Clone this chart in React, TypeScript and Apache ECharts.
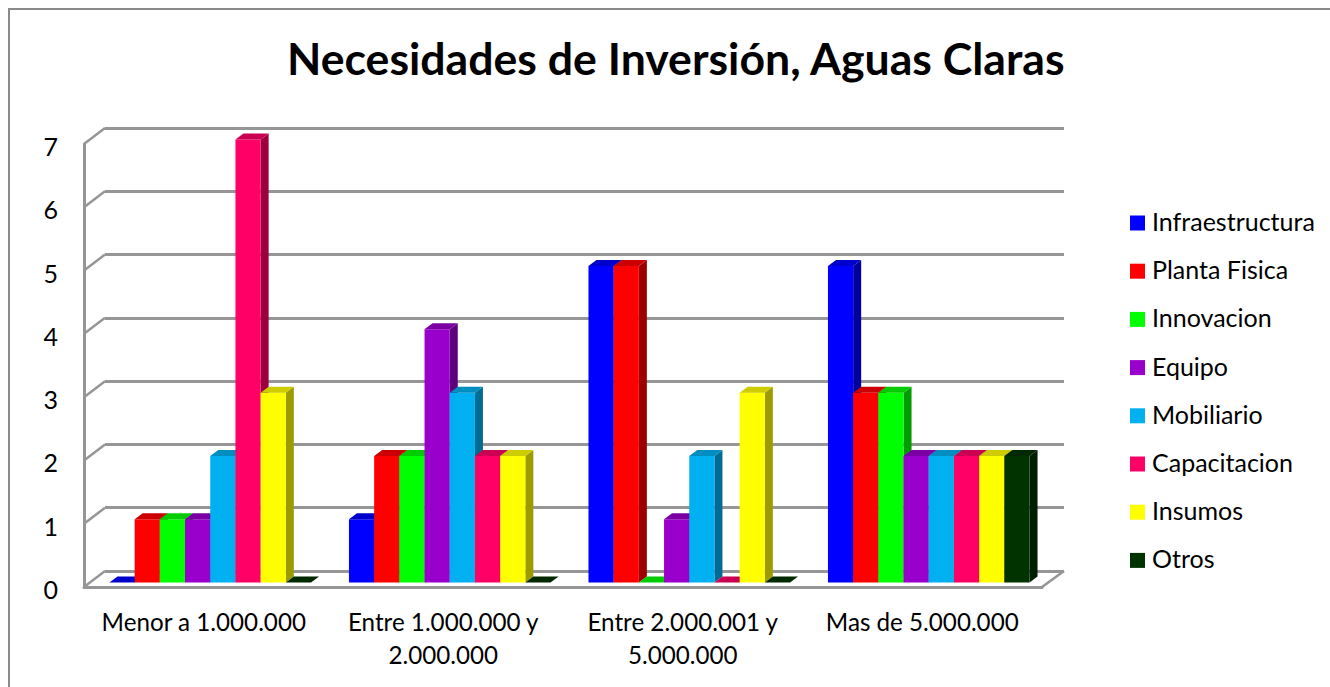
import React, { useEffect, useRef } from "react";
import * as echarts from "echarts";

const titleText = "Necesidades de Inversión, Aguas Claras";
const categories = ["Menor a 1.000.000", "Entre 1.000.000 y\n2.000.000", "Entre 2.000.001 y\n5.000.000", "Mas de 5.000.000"];
const yTicks = [0, 1, 2, 3, 4, 5, 6, 7];

const seriesNames = ["Infraestructura", "Planta Fisica", "Innovacion", "Equipo", "Mobiliario", "Capacitacion", "Insumos", "Otros"];
const infraestructura = [0, 1, 5, 5];
const plantaFisica = [1, 2, 5, 3];
const innovacion = [1, 2, 0, 3];
const equipo = [1, 4, 1, 2];
const mobiliario = [2, 3, 2, 2];
const capacitacion = [7, 2, 0, 2];
const insumos = [3, 2, 3, 2];
const otros = [0, 0, 0, 2];
const seriesValues = [infraestructura, plantaFisica, innovacion, equipo, mobiliario, capacitacion, insumos, otros];

const frontColors = ["#0000ff", "#ff0000", "#00ff00", "#9900cc", "#00b0f0", "#ff0066", "#ffff00", "#003300"];
const topColors = ["#0000cc", "#cc0000", "#00cc00", "#7a00a3", "#008dc0", "#cc0052", "#cccc00", "#002900"];
const sideColors = ["#00009c", "#9c0000", "#009c00", "#5d007d", "#006b93", "#9c003e", "#9c9c00", "#001f00"];

const FONT = "Lato";
const GRID_COLOR = "#969696";
const DEPTH_X = 21;
const DEPTH_Y = 16;
const BAR_SHIFT_X = 6.5;
const BAR_SHIFT_Y = -4.5;
const BAR_DX = 8;
const BAR_DY = 6;
const BAR_RATIO = 0.1052;

function makeBarSeries(idx: number) {
  return {
    type: "custom",
    name: seriesNames[idx],
    xAxisIndex: 0,
    yAxisIndex: 0,
    silent: true,
    clip: false,
    itemStyle: { color: frontColors[idx] },
    data: seriesValues[idx].map((v, c) => [c, v]),
    encode: { x: 0, y: 1 },
    renderItem: (_p: any, api: any) => {
      const top = api.coord([api.value(0), api.value(1)]);
      const base = api.coord([api.value(0), 0]);
      const bw = api.size([1, 0])[0] * BAR_RATIO;
      const x0 = top[0] + BAR_SHIFT_X + (idx - 4) * bw;
      const x1 = x0 + bw;
      const yT = top[1] + BAR_SHIFT_Y;
      const yB = base[1] + BAR_SHIFT_Y;
      const children: any[] = [];
      if (yB - yT > 0.5) {
        children.push({
          type: "polygon",
          shape: { points: [[x1, yT], [x1 + BAR_DX, yT - BAR_DY], [x1 + BAR_DX, yB - BAR_DY], [x1, yB]] },
          style: { fill: sideColors[idx] },
        });
        children.push({
          type: "rect",
          shape: { x: x0, y: yT, width: bw, height: yB - yT },
          style: { fill: frontColors[idx] },
        });
      }
      children.push({
        type: "polygon",
        shape: { points: [[x0, yT], [x1, yT], [x1 + BAR_DX, yT - BAR_DY], [x0 + BAR_DX, yT - BAR_DY]] },
        style: { fill: topColors[idx] },
      });
      return { type: "group", children };
    },
  };
}

const lineStyle = { stroke: GRID_COLOR, lineWidth: 2.5 };

export default function App() {
  const ref = useRef<HTMLDivElement>(null);
  useEffect(() => {
    const chart = echarts.init(ref.current!, undefined, { renderer: "svg" });
    const axisLine = { show: true, lineStyle: { color: GRID_COLOR, width: 3 } };
    chart.setOption({
      animation: false,
      backgroundColor: "#ffffff",
      textStyle: { fontFamily: FONT },
      title: {
        text: titleText,
        left: 282,
        top: 30,
        textStyle: { fontFamily: FONT, fontSize: 44.6, fontWeight: "bold", color: "#000000" },
      },
      legend: {
        data: seriesNames,
        orient: "vertical",
        left: 1125,
        top: 203.5,
        itemWidth: 15,
        itemHeight: 15,
        itemGap: 19.2,
        icon: "rect",
        selectedMode: false,
        formatter: (name: string) => `{t|${name}}`,
        textStyle: {
          rich: { t: { fontFamily: FONT, fontSize: 25, lineHeight: 24, color: "#000000", padding: [0, 0, 4, 2] } },
        },
      },
      graphic: [
        {
          type: "polyline",
          silent: true,
          shape: { points: [[9, 700], [9, 9], [1340, 9]] },
          style: { stroke: "#8a8a8a", lineWidth: 2, fill: "none" },
        },
      ],
      grid: [
        { left: 84, top: 144, width: 958, height: 443 },
        { left: 105, top: 128, width: 959, height: 443 },
      ],
      xAxis: [
        {
          type: "category",
          gridIndex: 0,
          data: categories,
          axisLine,
          axisTick: { show: false },
          axisLabel: { fontFamily: FONT, fontSize: 24.2, color: "#000000", lineHeight: 33, margin: 18, interval: 0 },
        },
        { type: "category", gridIndex: 1, data: categories, show: false },
      ],
      yAxis: [
        {
          type: "value",
          gridIndex: 0,
          min: 0,
          max: 7,
          interval: 1,
          axisLine,
          axisTick: { show: false },
          splitLine: { show: false },
          axisLabel: {
            margin: 26,
            formatter: "{v|{value}}",
            rich: { v: { fontFamily: FONT, fontSize: 25, color: "#000000", padding: [4, 0, 0, 0] } },
          },
        },
        {
          type: "value",
          gridIndex: 1,
          min: 0,
          max: 7,
          interval: 1,
          axisLine: { show: false },
          axisTick: { show: false },
          axisLabel: { show: false },
          splitLine: { show: true, lineStyle: { color: GRID_COLOR, width: 3 } },
        },
      ],
      series: [
        {
          type: "custom",
          name: "wall",
          xAxisIndex: 0,
          yAxisIndex: 0,
          silent: true,
          clip: false,
          data: yTicks.map((t) => [0, t]),
          encode: { x: 0, y: 1 },
          renderItem: (_p: any, api: any) => {
            const pt = api.coord([api.value(0), api.value(1)]);
            const half = api.size([1, 0])[0] / 2;
            const x = pt[0] - half;
            return {
              type: "line",
              shape: { x1: x, y1: pt[1], x2: x + DEPTH_X, y2: pt[1] - DEPTH_Y },
              style: lineStyle,
            };
          },
        },
        {
          type: "custom",
          name: "floorEdge",
          xAxisIndex: 0,
          yAxisIndex: 0,
          silent: true,
          clip: false,
          data: [[categories.length - 1, 0]],
          encode: { x: 0, y: 1 },
          renderItem: (_p: any, api: any) => {
            const pt = api.coord([api.value(0), api.value(1)]);
            const half = api.size([1, 0])[0] / 2;
            const x = pt[0] + half;
            return {
              type: "line",
              shape: { x1: x, y1: pt[1], x2: x + DEPTH_X + 1, y2: pt[1] - DEPTH_Y },
              style: lineStyle,
            };
          },
        },
        ...seriesNames.map((_, i) => makeBarSeries(i)),
      ],
    });
    return () => chart.dispose();
  }, []);
  return <div ref={ref} style={{ position: "fixed", left: 0, top: 0, width: 1330, height: 687 }} />;
}
